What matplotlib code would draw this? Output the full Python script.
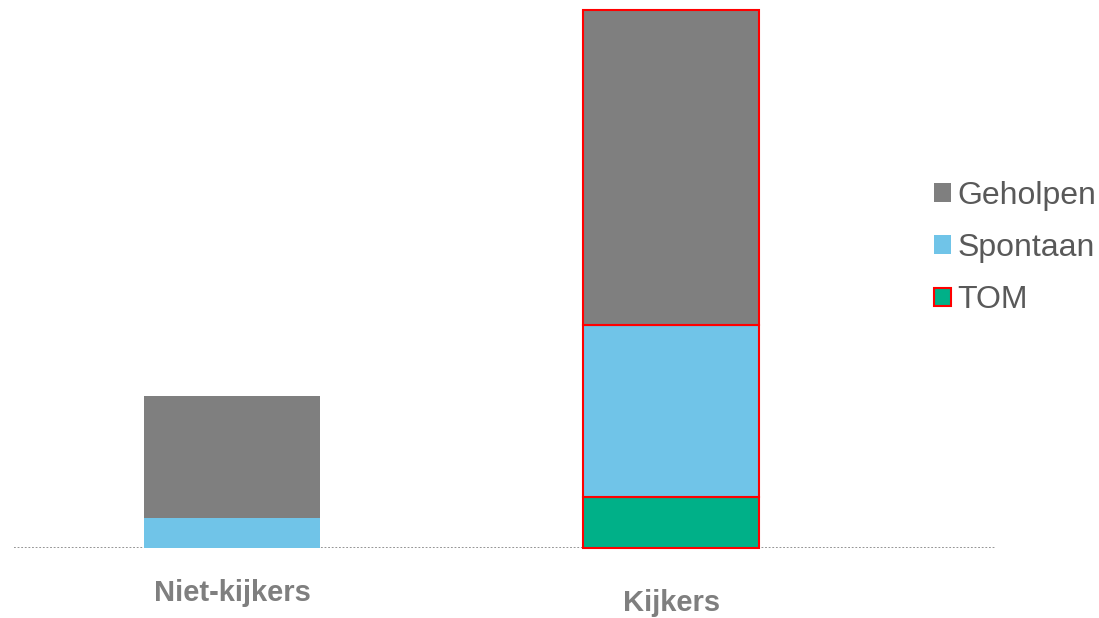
import numpy as np
import matplotlib.pyplot as plt
from matplotlib.patches import Patch

# data
groepen = ['Niet-kijkers', 'Kijkers']
tom = [0.0, 9.5]
spontaan = [5.6, 32.0]
geholpen = [22.7, 58.5]

grijs = '#7f7f7f'
blauw = '#70c4e8'
groen = '#00b088'
rood = '#ff0000'

fig = plt.figure(figsize=(10.99, 6.18), dpi=100)
ax = fig.add_axes([14 / 1099, 70 / 618, 982 / 1099, 538 / 618])

x = np.arange(len(groepen))
w = 0.4
edges = ['none', rood]
lws = [0, 1.5]

tom = np.array(tom)
spontaan = np.array(spontaan)
geholpen = np.array(geholpen)

for i in range(len(groepen)):
    ax.bar(x[i], tom[i], w, color=groen, edgecolor=edges[i], linewidth=lws[i], clip_on=False, zorder=3)
    ax.bar(x[i], spontaan[i], w, bottom=tom[i], color=blauw, edgecolor=edges[i], linewidth=lws[i], clip_on=False, zorder=3)
    ax.bar(x[i], geholpen[i], w, bottom=tom[i] + spontaan[i], color=grijs, edgecolor=edges[i], linewidth=lws[i], clip_on=False, zorder=3)

ax.set_xlim(-0.497, 1.74)
ax.set_ylim(0, 100)
# gestippelde basislijn
ax.axhline(0, color='#8c8c8c', linestyle=(0, (1, 1)), linewidth=1.3, zorder=2)
ax.axis('off')

# categorie labels (Kijkers staat iets lager)
offsets = [-53 / 538, -63 / 538]
for i in range(len(groepen)):
    ax.text(x[i], offsets[i], groepen[i], transform=ax.get_xaxis_transform(), ha='center', va='baseline',
            fontsize=21, fontweight='bold', color=grijs, family='Liberation Sans')

handles = [Patch(facecolor=grijs, edgecolor='none'),
           Patch(facecolor=blauw, edgecolor='none'),
           Patch(facecolor=groen, edgecolor=rood, linewidth=1.5)]
fig.legend(handles, ['Geholpen', 'Spontaan', 'TOM'], loc='center left',
           bbox_to_anchor=(934 / 1099, 1 - 248 / 618), frameon=False,
           borderpad=0, borderaxespad=0,
           prop={'family': 'Liberation Sans', 'size': 23}, labelcolor='#595959',
           handlelength=0.53, handleheight=0.53, handletextpad=0.2, labelspacing=0.7)

fig.savefig('out.png', dpi=100)
